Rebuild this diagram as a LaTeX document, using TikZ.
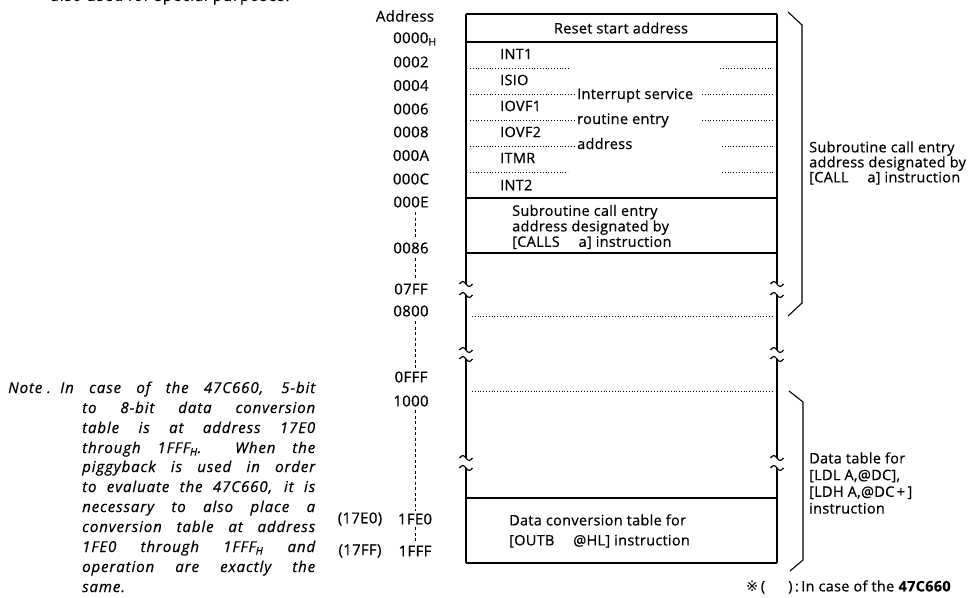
\documentclass[tikz,border=0pt]{standalone}
\usepackage{fontspec}
\setmainfont[LetterSpace=2, FakeBold=0.5]{Open Sans}
\newfontfamily\notefont[LetterSpace=6, FakeBold=0.5]{Open Sans}
\newfontfamily\marksym{DejaVu Sans}
\usetikzlibrary{positioning}

\tikzset{
  wall/.style={line width=1.8pt},
  rule/.style={line width=1.4pt},
  dotrule/.style={line width=0.9pt, dash pattern=on 0.8pt off 2pt},
  addrdash/.style={line width=1pt, dash pattern=on 3pt off 2.5pt},
  brace/.style={line width=1.1pt},
  txt/.style={font=\fontsize{14.5}{16}\selectfont, inner sep=0pt},
  addr/.style={txt, font=\fontsize{15}{16}\selectfont},
  cell/.style={txt, anchor=west},
  side/.style={txt, anchor=west, align=left},
  note/.style={font=\notefont\fontsize{15}{18}\selectfont\itshape, inner sep=0pt, anchor=base west},
}

% small wave where the map is broken off
\newcommand{\wavebrk}[2]{%
  \draw[line width=1.2pt] (#1-6.5,#2) sin (#1-3.2,#2-2.5) cos (#1,#2) sin (#1+3.2,#2+2.5) cos (#1+6.5,#2);}

\begin{document}
\begin{tikzpicture}[x=1pt, y=-1pt]
\useasboundingbox (0,0) rectangle (973,597);

% cut-off line above
\node[txt, font=\notefont\fontsize{15}{16}\selectfont] (cut) at (170,-3) {also used for special purposes.};

% address column
\node[addr] (haddr) at (405,16) {Address};
\node[addr, anchor=west] (a0000) at (393,39) {0000\textsubscript{H}};
\node[addr] (a0002) at (411,62) {0002};
\node[addr] (a0004) at (411,85.5) {0004};
\node[addr] (a0006) at (411,109) {0006};
\node[addr] (a0008) at (411,132) {0008};
\node[addr] (a000A) at (411,155.5) {000A};
\node[addr] (a000C) at (411,179) {000C};
\node[addr] (a000E) at (411,202) {000E};
\node[addr] (a0086) at (411,248) {0086};
\node[addr] (a07FF) at (411,289) {07FF};
\node[addr] (a0800) at (411,311) {0800};
\node[addr] (a0FFF) at (411,377) {0FFF};
\node[addr] (a1000) at (411,401) {1000};
\node[addr] (a1FE0) at (415,519) {1FE0};
\node[addr] (a1FFF) at (415,551) {1FFF};
\node[addr] (b17E0) at (360,519) {(17E0)};
\node[addr] (b17FF) at (360,551) {(17FF)};
\draw[addrdash] (415,212) -- (415,238);
\draw[addrdash] (415,258) -- (415,280);
\draw[addrdash] (415,321) -- (415,368);
\draw[addrdash] (415,410) -- (415,511);
\draw[addrdash] (415,527) -- (415,543);

% memory map frame
\foreach \ya/\yb in {14/284, 295/350, 359/458, 468/563} {
  \draw[wall] (466,\ya) -- (466,\yb);
  \draw[wall] (777,\ya) -- (777,\yb);
}
\foreach \yw in {284, 295, 350, 359, 458, 468} {
  \wavebrk{466}{\yw}
  \wavebrk{777}{\yw}
}
\foreach \yh in {14, 42, 198, 253, 498} {
  \draw[rule] (466,\yh) -- (777,\yh);
}
\draw[wall] (466,563) -- (777,563);

% vector area
\node[txt] (reset) at (621,28) {Reset start address};
\node[cell] (int1) at (500,54) {INT1};
\node[cell] (isio) at (500,80) {ISIO};
\node[cell] (iovf1) at (500,106) {IOVF1};
\node[cell] (iovf2) at (500,132) {IOVF2};
\node[cell] (itmr) at (500,158) {ITMR};
\node[cell] (int2) at (500,185) {INT2};
\node[txt, anchor=base west] (isr1) at (577,99) {Interrupt service};
\node[txt, anchor=base west] (isr2) at (577,124) {routine entry};
\node[txt, anchor=base west] (isr3) at (577,149) {address};
\draw[dotrule] (470,68) -- (570,68);
\draw[dotrule] (720,68) -- (773,68);
\draw[dotrule] (470,94) -- (575,94);
\draw[dotrule] (702,94) -- (773,94);
\draw[dotrule] (470,120) -- (575,120);
\draw[dotrule] (702,120) -- (773,120);
\draw[dotrule] (470,146) -- (575,146);
\draw[dotrule] (722,146) -- (773,146);
\draw[dotrule] (470,172) -- (568,172);
\draw[dotrule] (722,172) -- (773,172);

\node[side, font=\fontsize{14.5}{15.5}\selectfont] (calls) at (512,227)
  {Subroutine call entry\\address designated by\\{[CALLS}\hspace{1.3em}a] instruction};

\draw[dotrule] (472,316) -- (773,316);
\draw[dotrule] (472,391) -- (773,391);

\node[side, font=\fontsize{14.5}{20}\selectfont] (outb) at (509,531)
  {Data conversion table for\\{[OUTB}\hspace{1.3em}@HL] instruction};

% right-hand braces
\draw[brace] (788,12) -- (802,25) -- (802,303) -- (788,316);
\draw[brace] (789,391) -- (803,402) -- (803,560) -- (790,571);
\node[side, font=\fontsize{14.5}{15}\selectfont] (call) at (809,163)
  {Subroutine call entry\\address designated by\\{[CALL}\hspace{1.3em}a] instruction};
\node[side, font=\fontsize{14.5}{16.7}\selectfont] (ldl) at (809,483)
  {Data table for\\{[LDL} A,@DC],\\{[LDH} A,@DC\,+\,]\\instruction};

\node[txt, anchor=west] (foot) at (746,587)
  {{\marksym ※}\,(\hspace{1.6em})\,:\,In case of the \textbf{47C660}};

% note
\node[note] (notehd) at (8,393) {Note .};
\node[note] (n1) at (60,393) {\hbox to 255pt{In case of the 47C660, 5-bit}};
\node[note] (n2) at (82,413) {\hbox to 233pt{to 8-bit data conversion}};
\node[note] (n3) at (82,433) {\hbox to 233pt{table is at address 17E0}};
\node[note] (n4) at (82,453) {\hbox to 233pt{through 1FFF\textsubscript{H}.\ \ When the}};
\node[note] (n5) at (82,472) {\hbox to 233pt{piggyback is used in order}};
\node[note] (n6) at (82,492) {\hbox to 233pt{to evaluate the 47C660, it is}};
\node[note] (n7) at (82,512) {\hbox to 233pt{necessary to also place a}};
\node[note] (n8) at (82,532) {\hbox to 233pt{conversion table at address}};
\node[note] (n9) at (82,552) {\hbox to 233pt{1FE0 through 1FFF\textsubscript{H} and}};
\node[note] (n10) at (82,572) {\hbox to 233pt{operation are exactly the}};
\node[note] (n11) at (82,592) {same.};
\end{tikzpicture}
\end{document}
